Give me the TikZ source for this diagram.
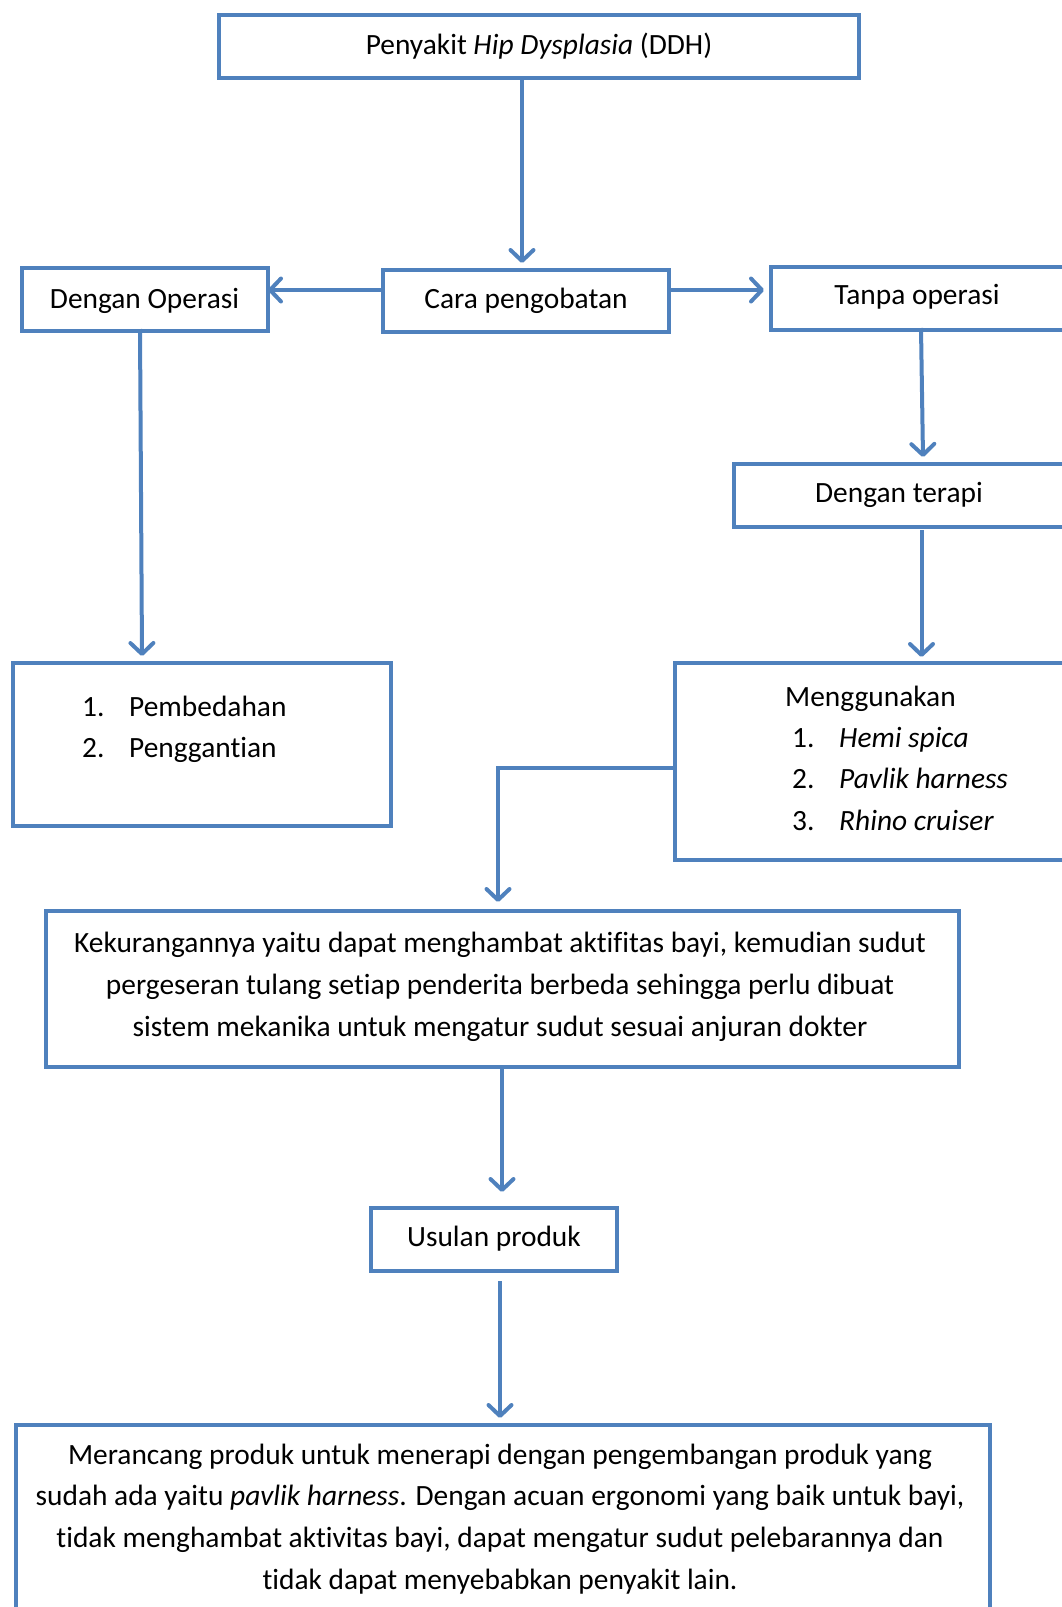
\documentclass[tikz,border=0pt]{standalone}
\usepackage{fontspec}
\setmainfont[Ligatures={NoCommon}]{Carlito}
\usetikzlibrary{arrows.meta}
\definecolor{bblue}{RGB}{79,129,189}
\tikzset{
  box/.style={draw=bblue, line width=4pt, rectangle, inner sep=0pt, anchor=north west},
  txt/.style={inner sep=0pt, font=\fontsize{29.4}{41.8}\selectfont, text=black},
  listtxt/.style={txt, font=\fontsize{29.4}{41.3}\selectfont, align=left, anchor=west},
  conn/.style={draw=bblue, line width=4pt, -{Straight Barb[length=11pt,width=23pt,line cap=round,line join=round]}},
}
\newcommand{\numitem}[2]{\makebox[47pt][l]{#1}#2}
\begin{document}
\begin{tikzpicture}[x=1pt,y=-1pt]
\useasboundingbox (0,0) rectangle (1062,1607);
\clip (0,0) rectangle (1062,1607);
% boxes
\node[box, minimum width=640, minimum height=63] (top) at (217,13) {};
\node[box, minimum width=286, minimum height=62] (cara) at (381,268) {};
\node[box, minimum width=246, minimum height=63] (op) at (19.5,265.5) {};
\node[box, minimum width=300, minimum height=63] (tanpa) at (769,265) {};
\node[box, minimum width=336, minimum height=63] (terapi) at (732,462) {};
\node[box, minimum width=400, minimum height=197] (guna) at (673,661) {};
\node[box, minimum width=378, minimum height=163] (bedah) at (10.5,661) {};
\node[box, minimum width=913, minimum height=156] (kurang) at (44,908.5) {};
\node[box, minimum width=246, minimum height=63] (usul) at (369,1205.5) {};
\node[box, minimum width=974, minimum height=200] (rancang) at (13.5,1423) {};
% texts
\node[txt] (ttop) at (top.center) {Penyakit \textit{Hip Dysplasia} (DDH)};
\node[txt] (tcara) at (cara.center) {Cara pengobatan};
\node[txt] (top2) at ([yshift=-1.5pt]op.center) {Dengan Operasi};
\node[txt] (ttanpa) at (917,297) {Tanpa operasi};
\node[txt] (tterapi) at (899,495) {Dengan terapi};
\node[listtxt] (tbedah) at (82,729.5) {\numitem{1.}{Pembedahan}\\\numitem{2.}{Penggantian}};
\node[listtxt] (tguna) at (785,758) {Menggunakan\\\hspace{7pt}\numitem{1.}{\textit{Hemi spica}}\\\hspace{7pt}\numitem{2.}{\textit{Pavlik harness}}\\\hspace{7pt}\numitem{3.}{\textit{Rhino cruiser}}};
\node[txt, align=center] (tkurang) at (500,987) {Kekurangannya yaitu dapat menghambat aktifitas bayi, kemudian sudut\\pergeseran tulang setiap penderita berbeda sehingga perlu dibuat\\sistem mekanika untuk mengatur sudut sesuai anjuran dokter};
\node[txt] (tusul) at (usul.center) {Usulan produk};
\node[txt, align=center] (trancang) at (500,1519) {Merancang produk untuk menerapi dengan pengembangan produk yang\\sudah ada yaitu \textit{pavlik harness}. Dengan acuan ergonomi yang baik untuk bayi,\\tidak menghambat aktivitas bayi, dapat mengatur sudut pelebarannya dan\\tidak dapat menyebabkan penyakit lain.};
% connectors
\coordinate (a1) at (522,263);
\draw[conn] (top.south -| a1) -- (a1);
\coordinate (a2) at (268,290);
\draw[conn] (cara.west |- a2) -- (a2);
\coordinate (a3) at (764,290);
\draw[conn] (cara.east |- a3) -- (a3);
\coordinate (a4s) at (140,329);
\coordinate (a4) at (142,656);
\draw[conn] (a4s) -- (a4);
\coordinate (a5s) at (921,328);
\coordinate (a5) at (923,457);
\draw[conn] (a5s) -- (a5);
\coordinate (a6s) at (921.5,530);
\coordinate (a6) at (921.5,657);
\draw[conn] (a6s) -- (a6);
\coordinate (a7) at (498,768);
\coordinate (a7e) at (498,902);
\draw[conn] (guna.west |- a7) -- (a7) -- (a7e);
\coordinate (a8) at (502,1192);
\draw[conn] (kurang.south -| a8) -- (a8);
\coordinate (a9s) at (500,1281);
\coordinate (a9) at (500,1418);
\draw[conn] (a9s) -- (a9);
\end{tikzpicture}
\end{document}
